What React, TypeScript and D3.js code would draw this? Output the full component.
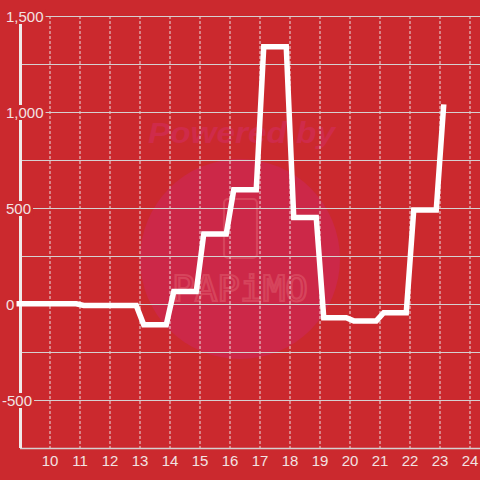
import React, { useEffect, useRef } from "react";
import * as d3 from "d3";

// quarter-hour interval midpoints (hours)
const times = [
  8.875,
  9.125, 9.375, 9.625, 9.875, 10.125, 10.375, 10.625, 10.875,
  11.125, 11.375, 11.625, 11.875, 12.125, 12.375, 12.625, 12.875,
  13.125, 13.375, 13.625, 13.875, 14.125, 14.375, 14.625, 14.875,
  15.125, 15.375, 15.625, 15.875, 16.125, 16.375, 16.625, 16.875,
  17.125, 17.375, 17.625, 17.875, 18.125, 18.375, 18.625, 18.875,
  19.125, 19.375, 19.625, 19.875, 20.125, 20.375, 20.625, 20.875,
  21.125, 21.375, 21.625, 21.875, 22.125, 22.375, 22.625, 22.875,
  23.125,
];
const values = [
  1,
  1, 1, 1, 1, 1, 1, 1, 1,
  -8, -8, -8, -8, -8, -8, -8, -8,
  -108, -108, -108, -108, 65, 65, 65, 65,
  365, 365, 365, 365, 595, 595, 595, 595,
  1340, 1340, 1340, 1340, 450, 450, 450, 450,
  -72, -72, -72, -72, -88, -88, -88, -88,
  -45, -45, -45, -45, 490, 490, 490, 490,
  1040,
];
const xTicks = [10, 11, 12, 13, 14, 15, 16, 17, 18, 19, 20, 21, 22, 23, 24];
const yGrid = [1500, 1250, 1000, 750, 500, 250, 0, -250, -500];
const yLabels = [1500, 1000, 500, 0, -500];

const BG = "#cb292e";

export default function App() {
  const ref = useRef<SVGSVGElement>(null);
  useEffect(() => {
    const svg = d3.select(ref.current);
    svg.selectAll("*").remove();
    const W = 480, H = 480;
    const x = d3.scaleLinear().domain([9, 25]).range([20, 500]);
    const y = d3.scaleLinear().domain([-750, 1500]).range([448, 16]);

    svg.append("rect").attr("width", W).attr("height", H).attr("fill", BG);

    // watermark
    const wm = svg.append("g");
    wm.append("circle").attr("cx", 240).attr("cy", 259).attr("r", 100).attr("fill", "#cc2848");
    wm.append("text").attr("x", 148).attr("y", 143).attr("textLength", 187)
      .attr("lengthAdjust", "spacingAndGlyphs")
      .attr("font-family", "Liberation Sans").attr("font-size", 29)
      .attr("font-weight", "bold").attr("font-style", "italic")
      .attr("fill", "#cf2b4a").text("Powered by");
    wm.append("rect").attr("x", 224).attr("y", 199).attr("width", 33).attr("height", 59)
      .attr("rx", 4).attr("fill", "none").attr("stroke", "#d6445c").attr("stroke-width", 2.2);
    wm.append("text").attr("x", 240).attr("y", 301).attr("text-anchor", "middle")
      .attr("font-family", "DejaVu Sans Mono").attr("font-size", 36)
      .attr("textLength", 136).attr("lengthAdjust", "spacingAndGlyphs")
      .attr("fill", "none").attr("stroke", "#d6445c").attr("stroke-width", 2.2)
      .text("PAPiMO");

    // vertical dashed grid
    svg.append("g").selectAll("line").data(xTicks).join("line")
      .attr("x1", (d) => x(d)).attr("x2", (d) => x(d))
      .attr("y1", y(1500)).attr("y2", y(-750))
      .attr("stroke", "#e8e0e0").attr("stroke-width", 1).attr("stroke-dasharray", "3,2");

    // horizontal grid
    svg.append("g").selectAll("line").data(yGrid).join("line")
      .attr("x1", x(9)).attr("x2", W)
      .attr("y1", (d) => y(d) + 0.5).attr("y2", (d) => y(d) + 0.5)
      .attr("stroke", "#d6d0d0").attr("stroke-width", 1.2);

    // x axis line
    svg.append("line").attr("x1", x(9)).attr("x2", W)
      .attr("y1", y(-750) + 0.5).attr("y2", y(-750) + 0.5)
      .attr("stroke", "#d6d0d0").attr("stroke-width", 1.5);

    // y axis line
    svg.append("line").attr("x1", x(9) + 0.5).attr("x2", x(9) + 0.5)
      .attr("y1", y(1500)).attr("y2", y(-750))
      .attr("stroke", "#f0eaea").attr("stroke-width", 3);

    // x labels
    svg.append("g").selectAll("text").data(xTicks).join("text")
      .attr("x", (d) => x(d)).attr("y", 466).attr("text-anchor", "middle")
      .attr("font-family", "Liberation Sans").attr("font-size", 15)
      .attr("fill", "#f2e2e2").text((d) => String(d));

    // data line
    const line = d3.line<number>().x((_, i) => x(times[i])).y((d) => y(d));
    svg.append("path").attr("d", line(values)).attr("fill", "none")
      .attr("stroke", "#ffffff").attr("stroke-width", 5.5)
      .attr("stroke-linejoin", "miter").attr("stroke-linecap", "butt");

    // y labels with background
    const fmt = d3.format(",");
    const yl = svg.append("g");
    yLabels.forEach((v) => {
      const g = yl.append("g");
      const bg = g.append("rect").attr("fill", BG);
      const t = g.append("text").attr("x", v < 0 ? 2 : 6).attr("y", y(v) + 6)
        .attr("font-family", "Liberation Sans").attr("font-size", 15)
        .attr("fill", "#f2e2e2").text(v < 0 ? "-" + fmt(-v) : fmt(v));
      const bb = (t.node() as SVGTextElement).getBBox();
      bg.attr("x", 0).attr("y", y(v) - 7).attr("width", bb.x + bb.width + 2).attr("height", 15);
    });
  }, []);
  return (
    <svg ref={ref} width={480} height={480}
      style={{ position: "fixed", left: 0, top: 0, display: "block" }} />
  );
}
